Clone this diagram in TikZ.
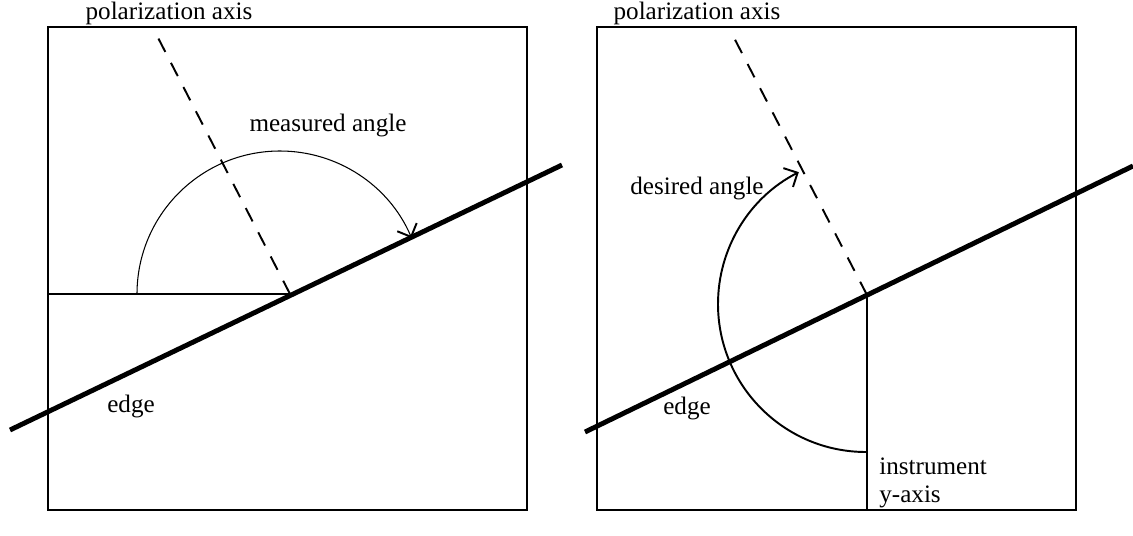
\documentclass[tikz,border=0pt]{standalone}
\usepackage{fontspec}
\setmainfont{Liberation Serif}
\usepackage{tikz}
\usetikzlibrary{positioning, arrows.meta, calc}

\begin{document}
\begin{tikzpicture}[
  x=0.02cm, y=0.02cm,
  thinbox/.style={draw, line width=0.6pt},
  thickbox/.style={draw, line width=1.1pt},
  edgeline/.style={line width=2.8pt},
  polaxis/.style={line width=1.1pt, dash pattern=on 8.5pt off 7pt},
  refline/.style={line width=1.1pt},
  anglearc/.style={-{Straight Barb[length=6pt,width=12pt,line width=1.1pt]}},
  lbl/.style={font=\fontsize{14.3}{15.5}\selectfont, inner sep=0pt},
]
  \useasboundingbox (0,0) rectangle (1133,535);

  % left panel: measured angle
  \draw[thinbox] (48,25) rectangle (527,508);
  \coordinate (edgeLa) at (10,105);
  \coordinate (edgeLb) at (562,370);
  \coordinate (footL) at (290,241);
  \coordinate (horzL) at (48,241);
  \coordinate (polL) at (153,507);
  \draw[refline] (horzL) -- (footL);
  \draw[polaxis] (footL) -- (polL);
  \draw[edgeline] (edgeLa) -- (edgeLb);
  \draw[anglearc, line width=0.6pt] (137,241) arc[start angle=180, end angle=23, radius=143];
  \node[lbl] (poltextL) at (169,522) {polarization axis};
  \node[lbl] (measured) at (328,410) {measured angle};
  \node[lbl] (edgetextL) at (131,129) {edge};

  % right panel: desired angle
  \draw[thickbox] (597,25) rectangle (1076,508);
  \coordinate (edgeRa) at (585,103);
  \coordinate (edgeRb) at (1133,369);
  \coordinate (footR) at (867,240);
  \coordinate (vertR) at (867,25);
  \coordinate (polR) at (730,505);
  \draw[refline] (footR) -- (vertR);
  \draw[polaxis] (footR) -- (polR);
  \draw[edgeline] (edgeRa) -- (edgeRb);
  \draw[anglearc, line width=1.1pt] (866,83) arc[start angle=270, end angle=117, radius=148];
  \node[lbl] (poltextR) at (697,522) {polarization axis};
  \node[lbl] (desired) at (697,347) {desired angle};
  \node[lbl] (edgetextR) at (687,127) {edge};
  \node[lbl, anchor=west, align=left] (instr) at (879,52) {instrument\\y-axis};
\end{tikzpicture}
\end{document}
